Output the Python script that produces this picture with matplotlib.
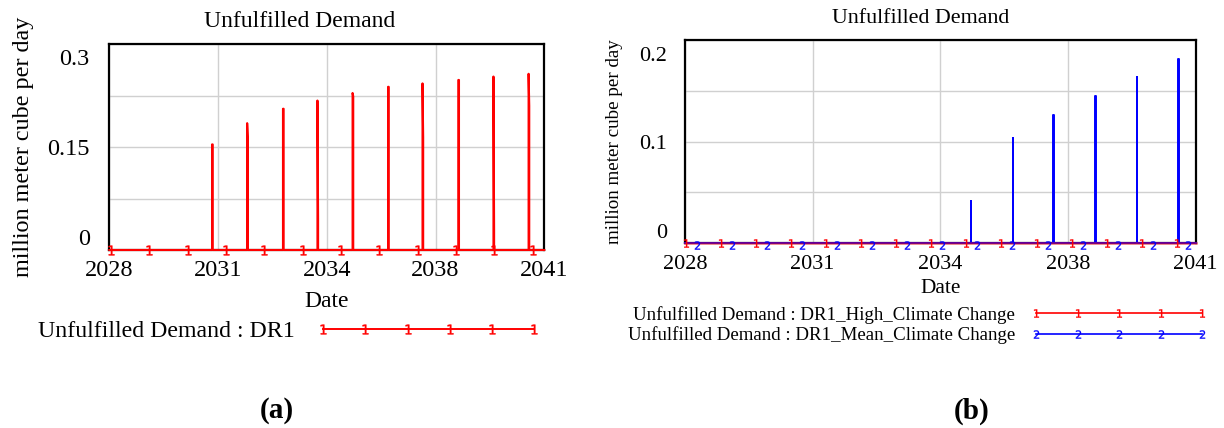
import matplotlib
matplotlib.use('Agg')
import matplotlib.pyplot as plt
from matplotlib.lines import Line2D
from matplotlib.transforms import ScaledTranslation
import numpy as np

plt.rcParams['font.family'] = ['Liberation Serif', 'DejaVu Serif']

# panel (a): DR1 spikes (year, peak, value just after peak)
spike_years_a = [2031.07, 2032.12, 2033.19, 2034.22, 2035.27, 2036.33, 2037.36, 2038.43, 2039.48, 2040.53]
spike_peaks_a = [0.154, 0.185, 0.206, 0.218, 0.229, 0.238, 0.243, 0.248, 0.253, 0.257]
spike_tails_a = [0.154, 0.162, 0.206, 0.045, 0.224, 0.238, 0.164, 0.248, 0.028, 0.210]

# panel (b): high climate change stays at zero, mean climate change spikes
high_years_b = [2028, 2041]
high_values_b = [0, 0]
spike_years_b = [2035.27, 2036.34, 2037.38, 2038.45, 2039.50, 2040.56]
spike_peaks_b = [0.042, 0.104, 0.126, 0.145, 0.164, 0.181]

x_tick_labels = ['2028', '2031', '2034', '2038', '2041']
x_start, x_end = 2028, 2041

RED = '#ff0000'
BLUE = '#0000ff'
GRID = '#d0d0d0'


def spike_series(years, peaks, tails, width=0.02):
    xs, ys = [x_start], [0]
    for t, p, q in zip(years, peaks, tails):
        xs += [t, t, t + width, t + width]
        ys += [0, p, q, 0]
    xs.append(x_end)
    ys.append(0)
    return xs, ys


def style_axes(ax, ymax, yticks, ylabels, tick_fs, ypad, xpad, top_shift):
    ax.set_xlim(x_start, x_end)
    ax.set_ylim(0, ymax)
    ax.set_xticks(np.linspace(x_start, x_end, 5))
    ax.set_xticklabels(x_tick_labels)
    ax.set_yticks(yticks)
    ax.set_yticklabels(ylabels)
    ax.tick_params(length=0, labelsize=tick_fs)
    ax.tick_params(axis='y', pad=ypad)
    ax.tick_params(axis='x', pad=xpad)
    ax.grid(True, color=GRID, linewidth=1.0)
    ax.set_axisbelow(True)
    for s in ax.spines.values():
        s.set_linewidth(1.6)
        s.set_color('black')
    ticks = ax.yaxis.get_major_ticks()
    ticks[0].label1.set_verticalalignment('bottom')
    top = ticks[-1].label1
    top.set_verticalalignment('top')
    top.set_transform(top.get_transform() + ScaledTranslation(0, -top_shift / 100, fig.dpi_scale_trans))


fig = plt.figure(figsize=(12.24, 4.28), dpi=100)

# ---- panel (a)
ax1 = fig.add_axes([0.0893, 0.4159, 0.3554, 0.4806])
style_axes(ax1, 0.3, [0, 0.075, 0.15, 0.225, 0.3], ['0', '', '0.15', '', '0.3'], 17.5, 14, 7, 5)
xa, ya = spike_series(spike_years_a, spike_peaks_a, spike_tails_a)
ax1.plot(xa, ya, color=RED, linewidth=1.5, clip_on=False, zorder=3)
ax1.plot(np.arange(2028.05, 2041, 1.146), np.zeros(12), linestyle='none', marker='$1$',
         color=RED, markersize=7, markeredgewidth=0.3, clip_on=False, zorder=4)
ax1.text(0.438, 1.113, 'Unfulfilled Demand', transform=ax1.transAxes, ha='center', va='center', fontsize=17)
ax1.set_ylabel('million meter cube per day', fontsize=17.4)
ax1.yaxis.set_label_coords(-0.198, 0.5)
ax1.yaxis.label.set_verticalalignment('center')
ax1.set_xlabel('Date', fontsize=17)
ax1.xaxis.set_label_coords(0.5, -0.248)
ax1.xaxis.label.set_verticalalignment('center')
h1 = Line2D([], [], color=RED, linewidth=1.4, marker='$1$', markersize=7, markeredgewidth=0.3)
ax1.legend([h1], ['Unfulfilled Demand : DR1'], markerfirst=False, frameon=False, numpoints=6,
           handlelength=9.4, handletextpad=0.9, fontsize=17.2, borderpad=0, borderaxespad=0,
           loc='center left', bbox_to_anchor=(38 / 1224, 1 - 331 / 428), bbox_transform=fig.transFigure)
fig.text(277 / 1224, 1 - 411 / 428, '(a)', ha='center', va='center', fontsize=21, fontweight='bold')

# ---- panel (b)
ax2 = fig.add_axes([0.5596, 0.4315, 0.4172, 0.475])
style_axes(ax2, 0.2, [0, 0.05, 0.1, 0.15, 0.2], ['0', '', '0.1', '', '0.2'], 16, 13, 8.5, 7)
xb, yb = spike_series(spike_years_b, spike_peaks_b, spike_peaks_b, width=0.01)
ax2.plot(xb, yb, color=BLUE, linewidth=1.4, clip_on=False, zorder=3)
ax2.plot(high_years_b, high_values_b, color=RED, linewidth=1.8, alpha=0.5, clip_on=False, zorder=3)
ax2.plot(np.arange(2028.02, 2041, 0.893), np.zeros(15), linestyle='none', marker='$1$',
         color=RED, markersize=6, markeredgewidth=0.2, clip_on=False, zorder=4)
ax2.plot(np.arange(2028.30, 2041, 0.893), np.full(15, -0.002), linestyle='none', marker='$2$',
         color=BLUE, markersize=6, markeredgewidth=0.2, clip_on=False, zorder=4)
ax2.text(0.462, 1.108, 'Unfulfilled Demand', transform=ax2.transAxes, ha='center', va='center', fontsize=15.8)
ax2.set_ylabel('million meter cube per day', fontsize=13.7)
ax2.yaxis.set_label_coords(-0.137, 0.5)
ax2.yaxis.label.set_verticalalignment('center')
ax2.set_xlabel('Date', fontsize=15.3)
ax2.xaxis.set_label_coords(0.5, -0.22)
ax2.xaxis.label.set_verticalalignment('center')
h2a = Line2D([], [], color=RED, linewidth=1.2, marker='$1$', markersize=6, markeredgewidth=0.2)
h2b = Line2D([], [], color=BLUE, linewidth=1.2, marker='$2$', markersize=6, markeredgewidth=0.2)
ax2.legend([h2a, h2b], ['Unfulfilled Demand : DR1_High_Climate Change',
                        'Unfulfilled Demand : DR1_Mean_Climate Change'],
           markerfirst=False, frameon=False, numpoints=5, handlelength=9.4, handletextpad=0.8,
           fontsize=13.6, labelspacing=0.15, borderpad=0, borderaxespad=0,
           loc='center left', bbox_to_anchor=(628 / 1224, 1 - 325 / 428), bbox_transform=fig.transFigure)
fig.text(972 / 1224, 1 - 411 / 428, '(b)', ha='center', va='center', fontsize=21, fontweight='bold')

fig.savefig('out.png', dpi=100)
